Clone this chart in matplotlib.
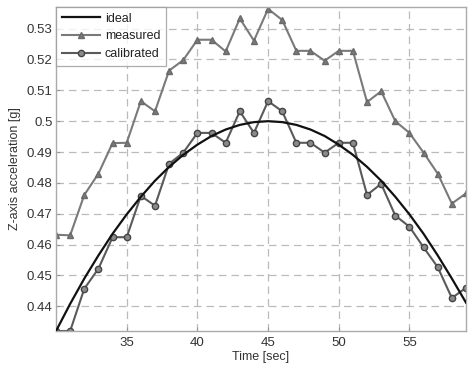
import matplotlib
matplotlib.use("Agg")
import matplotlib.pyplot as plt

plt.rcParams['font.family'] = ['Liberation Sans', 'DejaVu Sans']

time_s = list(range(30, 60))
ideal = [0.4320, 0.4408, 0.4490, 0.4565, 0.4635, 0.4698, 0.4755, 0.4807, 0.4852, 0.4891,
         0.4924, 0.4952, 0.4973, 0.4988, 0.4997, 0.5000, 0.4997, 0.4988, 0.4973, 0.4952,
         0.4924, 0.4891, 0.4852, 0.4807, 0.4755, 0.4698, 0.4635, 0.4565, 0.4490, 0.4412]
measured = [0.4632, 0.4630, 0.4761, 0.4830, 0.4929, 0.4930, 0.5065, 0.5032, 0.5164, 0.5198,
            0.5264, 0.5264, 0.5226, 0.5333, 0.5261, 0.5364, 0.5328, 0.5228, 0.5228, 0.5196,
            0.5228, 0.5228, 0.5062, 0.5097, 0.5000, 0.4962, 0.4898, 0.4830, 0.4733, 0.4766]
calibrated = [0.4320, 0.4320, 0.4457, 0.4522, 0.4624, 0.4624, 0.4758, 0.4726, 0.4862, 0.4898,
              0.4962, 0.4962, 0.4930, 0.5032, 0.4962, 0.5065, 0.5032, 0.4930, 0.4930, 0.4898,
              0.4930, 0.4930, 0.4761, 0.4797, 0.4694, 0.4658, 0.4591, 0.4527, 0.4427, 0.4460]

x_ticks = [35, 40, 45, 50, 55]
x_tick_labels = ['35', '40', '45', '50', '55']
y_ticks = [0.44, 0.45, 0.46, 0.47, 0.48, 0.49, 0.50, 0.51, 0.52, 0.53]
y_tick_labels = ['0.44', '0.45', '0.46', '0.47', '0.48', '0.49', '0.5', '0.51', '0.52', '0.53']

fig = plt.figure(figsize=(4.68, 3.70), dpi=100)
ax = fig.add_axes([0.1197, 0.1054, 0.876, 0.8756])

ax.plot(time_s, ideal, color='#111111', lw=1.6, label='ideal', zorder=3)
ax.plot(time_s, measured, color='#7a7a7a', lw=1.5, marker='^', ms=4.5,
        mfc='#7a7a7a', mec='#6a6a6a', label='measured', zorder=2)
ax.plot(time_s, calibrated, color='#5a5a5a', lw=1.5, marker='o', ms=4.5,
        mfc='#8a8a8a', mec='#444444', mew=1.0, label='calibrated', zorder=2)

ax.set_xlim(30, 59)
ax.set_ylim(0.432, 0.537)
ax.set_xticks(x_ticks)
ax.set_xticklabels(x_tick_labels)
ax.set_yticks(y_ticks)
ax.set_yticklabels(y_tick_labels)
ax.tick_params(direction='in', length=3, color='#999999', labelsize=9.5, labelcolor='#333333')
ax.tick_params(axis='y', pad=2.5)
ax.tick_params(axis='x', pad=4)
ax.grid(True, color='#bbbbbb', linestyle=(0, (6, 4)), lw=0.9)
for s in ax.spines.values():
    s.set_color('#aaaaaa')
    s.set_linewidth(1.0)

ax.set_xlabel('Time [sec]', fontsize=9, color='#333333', labelpad=2)
ax.set_ylabel('Z-axis acceleration [g]', fontsize=9, color='#333333', labelpad=4)

leg = ax.legend(loc='upper left', fontsize=9, frameon=True, fancybox=False,
                borderaxespad=0.0, handlelength=3.1, labelspacing=0.45,
                borderpad=0.45, handletextpad=0.35)
leg.get_frame().set_edgecolor('#999999')
leg.get_frame().set_linewidth(0.9)
for t in leg.get_texts():
    t.set_color('#222222')

fig.savefig('out.png', dpi=100)
